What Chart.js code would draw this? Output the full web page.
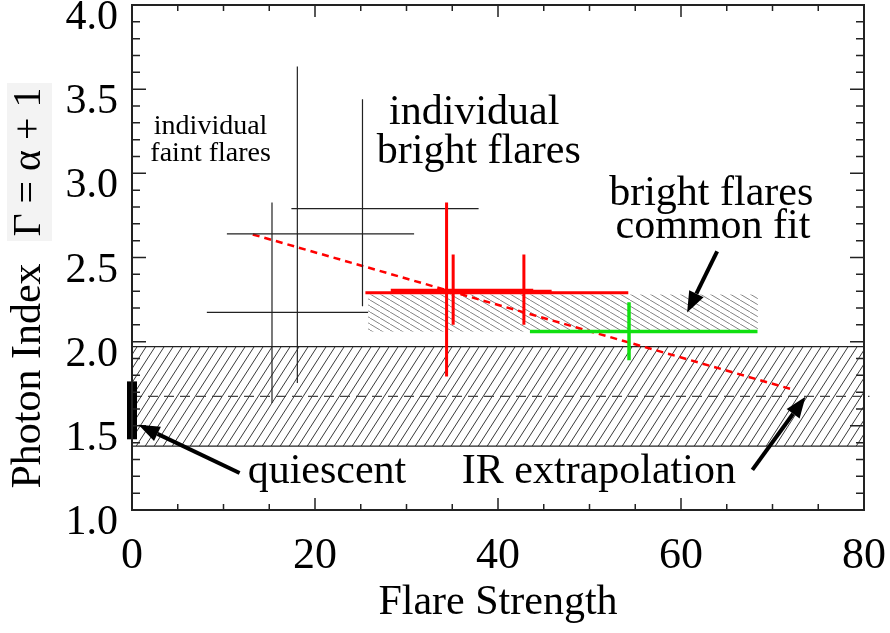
<!DOCTYPE html>
<html>
<head>
<meta charset="utf-8">
<title>Photon Index vs Flare Strength</title>
<script src="https://cdn.jsdelivr.net/npm/chart.js@4.4.1/dist/chart.umd.min.js"></script>
<style>
  html, body { margin: 0; padding: 0; background: #fff; }
</style>
</head>
<body>
<canvas id="chart" width="890" height="633"></canvas>
<script>
// individual faint flares: centre and error ranges
const faintX   = [15.30, 18.07, 25.19];
const faintY   = [2.640, 2.174, 2.790];
const faintXlo = [10.37, 8.18, 17.42];
const faintXhi = [30.83, 25.80, 37.88];
const faintYlo = [1.635, 1.754, 2.210];
const faintYhi = [2.826, 3.635, 3.440];

// individual bright flares
const brightX   = [34.38, 35.10, 42.83];
const brightY   = [2.305, 2.300, 2.290];
const brightXlo = [28.28, 34.30, 25.51];
const brightXhi = [43.85, 45.86, 54.24];
const brightYlo = [1.793, 2.101, 2.101];
const brightYhi = [2.826, 2.518, 2.518];

// averaged bright flare (green)
const avgX   = [54.32];
const avgY   = [2.061];
const avgXlo = [43.49];
const avgXhi = [68.36];
const avgYlo = [1.889];
const avgYhi = [2.234];

// quiescent index at zero flare strength
const quietX = [0, 0];
const quietY = [1.42, 1.764];

// IR extrapolation band and its central value
const irBandX  = [0, 80];
const irBandLo = [1.38, 1.38];
const irBandHi = [1.97, 1.97];
const irMidX   = [0, 80.6];
const irMidY   = [1.675, 1.675];

// common fit of the bright flares
const fitBoxX  = [25.8, 68.4];
const fitBoxLo = [2.06, 2.06];
const fitBoxHi = [2.28, 2.28];

// trend through the flares
const trendX = [13.2, 72.3];
const trendY = [2.637, 1.714];

const SERIF = '"Liberation Serif", "Times New Roman", serif';

const pts = (xs, ys) => xs.map((x, i) => ({ x, y: ys[i] }));

// cross-shaped error bars, segments split by null points
function errorBars(xs, ys, xlo, xhi, ylo, yhi) {
    const out = [];
    xs.forEach((x, i) => {
        out.push({ x: xlo[i], y: ys[i] }, { x: xhi[i], y: ys[i] }, { x: xhi[i], y: null });
        out.push({ x, y: ylo[i] }, { x, y: yhi[i] }, { x, y: null });
    });
    return out;
}

function hatch(w, h, color, lw, rising) {
    const c = document.createElement('canvas');
    c.width = w; c.height = h;
    const g = c.getContext('2d');
    g.strokeStyle = color;
    g.lineWidth = lw;
    g.beginPath();
    for (const o of [-w, 0, w]) {
        if (rising) { g.moveTo(o, h); g.lineTo(o + w, 0); }
        else { g.moveTo(o, 0); g.lineTo(o + w, h); }
    }
    g.stroke();
    return g.createPattern(c, 'repeat');
}

const bandHatch = hatch(9, 14, '#222', 0.9, true);
const fitHatch  = hatch(10, 6, '#666', 0.8, false);

/* Frame and inward ticks on all four sides */
const frameTicks = {
    id: 'frameTicks',
    afterDatasetsDraw(chart) {
        const { ctx, chartArea: a, scales: { x, y } } = chart;
        ctx.save();
        ctx.strokeStyle = '#222';
        ctx.lineWidth = 1.5;
        ctx.beginPath();
        x.ticks.forEach(t => {
            const px = x.getPixelForValue(t.value);
            const len = Math.abs(t.value % 20) < 1e-6 ? 12 : 6;
            ctx.moveTo(px, a.bottom); ctx.lineTo(px, a.bottom - len);
            ctx.moveTo(px, a.top);    ctx.lineTo(px, a.top + len);
        });
        y.ticks.forEach(t => {
            const py = y.getPixelForValue(t.value);
            const r = t.value * 2;
            const len = Math.abs(r - Math.round(r)) < 1e-6 ? 14 : 8;
            ctx.moveTo(a.left, py);  ctx.lineTo(a.left + len, py);
            ctx.moveTo(a.right, py); ctx.lineTo(a.right - len, py);
        });
        ctx.stroke();
        ctx.lineWidth = 2;
        ctx.strokeRect(a.left, a.top, a.right - a.left, a.bottom - a.top);
        ctx.restore();
    }
};

function arrow(ctx, x1, y1, x2, y2) {
    const ang = Math.atan2(y2 - y1, x2 - x1);
    const head = 21, half = 8;
    const bx = x2 - head * Math.cos(ang);
    const by = y2 - head * Math.sin(ang);
    ctx.lineWidth = 4;
    ctx.beginPath(); ctx.moveTo(x1, y1); ctx.lineTo(bx, by); ctx.stroke();
    ctx.beginPath();
    ctx.moveTo(x2, y2);
    ctx.lineTo(bx + half * Math.sin(ang), by - half * Math.cos(ang));
    ctx.lineTo(bx - half * Math.sin(ang), by + half * Math.cos(ang));
    ctx.closePath();
    ctx.fill();
}

/* Text labels, arrows and the rotated y title */
const notes = {
    id: 'notes',
    afterDraw(chart) {
        const { ctx, scales: { x, y } } = chart;
        const X = v => x.getPixelForValue(v);
        const Y = v => y.getPixelForValue(v);
        ctx.save();
        ctx.fillStyle = '#000';
        ctx.strokeStyle = '#000';
        ctx.textBaseline = 'alphabetic';

        ctx.textAlign = 'center';
        ctx.font = `28px ${SERIF}`;
        ctx.fillText('individual', X(8.59), Y(3.232));
        ctx.fillText('faint flares', X(8.59), Y(3.073));

        ctx.font = `42px ${SERIF}`;
        ctx.fillText('individual', X(37.4), Y(3.292));
        ctx.fillText('bright flares', X(37.9), Y(3.064));
        ctx.fillText('bright flares', X(63.3), Y(2.810));
        ctx.fillText('common fit', X(63.5), Y(2.617));

        ctx.textAlign = 'left';
        ctx.fillText('quiescent', X(12.64), Y(1.161));
        ctx.fillText('IR extrapolation', X(36.05), Y(1.161));

        arrow(ctx, X(11.76), Y(1.22), X(0.71), Y(1.506));
        arrow(ctx, X(67.8), Y(1.238), X(73.6), Y(1.673));
        arrow(ctx, X(63.95), Y(2.536), X(60.67), Y(2.173));

        // y axis title: two rotated lines, the formula on a light panel
        ctx.fillStyle = '#f3f3f3';
        ctx.fillRect(7, 83, 45, 158);
        ctx.fillStyle = '#000';
        ctx.textAlign = 'center';
        ctx.textBaseline = 'middle';
        ctx.save();
        ctx.translate(29, 162);
        ctx.rotate(-Math.PI / 2);
        ctx.font = `40px ${SERIF}`;
        ctx.fillText('\u0393 = \u03b1 + 1', 0, 0);
        ctx.restore();
        ctx.save();
        ctx.translate(29, 376);
        ctx.rotate(-Math.PI / 2);
        ctx.font = `42px ${SERIF}`;
        ctx.fillText('Photon Index', 0, 0);
        ctx.restore();

        ctx.restore();
    }
};

const line = (data, extra) => Object.assign({
    data,
    showLine: true,
    pointRadius: 0,
    fill: false,
    tension: 0,
    borderCapStyle: 'butt',
}, extra);

new Chart(document.getElementById('chart'), {
    type: 'line',
    data: {
        datasets: [
            line(pts(quietX, quietY), { borderColor: '#000', borderWidth: 10, clip: false }),
            line(errorBars(avgX, avgY, avgXlo, avgXhi, avgYlo, avgYhi), { borderColor: '#11e011', borderWidth: 3.5 }),
            line(errorBars(brightX, brightY, brightXlo, brightXhi, brightYlo, brightYhi), { borderColor: '#ff0000', borderWidth: 3 }),
            line(errorBars(faintX, faintY, faintXlo, faintXhi, faintYlo, faintYhi), { borderColor: '#222', borderWidth: 1.2 }),
            line(pts(trendX, trendY), { borderColor: '#ff0000', borderWidth: 2.5, borderDash: [7, 5] }),
            line(pts(irMidX, irMidY), { borderColor: '#444', borderWidth: 1.4, borderDash: [10, 6], clip: false }),
            line(pts(fitBoxX, fitBoxHi), { borderWidth: 0, borderColor: 'rgba(0,0,0,0)', fill: '+1', backgroundColor: fitHatch }),
            line(pts(fitBoxX, fitBoxLo), { borderWidth: 0, borderColor: 'rgba(0,0,0,0)' }),
            line(pts(irBandX, irBandHi), { borderColor: '#222', borderWidth: 1.2, fill: '+1', backgroundColor: bandHatch }),
            line(pts(irBandX, irBandLo), { borderColor: '#222', borderWidth: 1.2 }),
        ],
    },
    options: {
        responsive: false,
        animation: false,
        events: [],
        layout: { padding: { top: 5, right: 26, left: 0, bottom: 0 } },
        plugins: {
            legend: { display: false },
            tooltip: { enabled: false },
        },
        scales: {
            x: {
                type: 'linear',
                min: 0,
                max: 80,
                grid: { display: false, drawTicks: false },
                border: { display: false },
                ticks: {
                    stepSize: 5,
                    autoSkip: false,
                    maxRotation: 0,
                    padding: 20,
                    color: '#000',
                    font: { family: SERIF, size: 44 },
                    callback: v => (v % 20 === 0 ? String(v) : ''),
                },
                title: {
                    display: true,
                    text: 'Flare Strength',
                    color: '#000',
                    font: { family: SERIF, size: 42 },
                    padding: { top: 0, bottom: 5 },
                },
                afterFit: s => { s.height = 123; s.paddingLeft = 0; s.paddingRight = 0; },
            },
            y: {
                type: 'linear',
                min: 1,
                max: 4,
                grid: { display: false, drawTicks: false },
                border: { display: false },
                ticks: {
                    stepSize: 0.1,
                    maxTicksLimit: 100,
                    autoSkip: false,
                    padding: 14,
                    labelOffset: 13,
                    color: '#000',
                    font: { family: SERIF, size: 42 },
                    callback: v => {
                        const r = v * 2;
                        return Math.abs(r - Math.round(r)) < 1e-6 ? v.toFixed(1) : '';
                    },
                },
                afterFit: s => { s.width = 132; s.paddingTop = 0; s.paddingBottom = 0; },
            },
        },
    },
    plugins: [frameTicks, notes],
});
</script>
</body>
</html>
